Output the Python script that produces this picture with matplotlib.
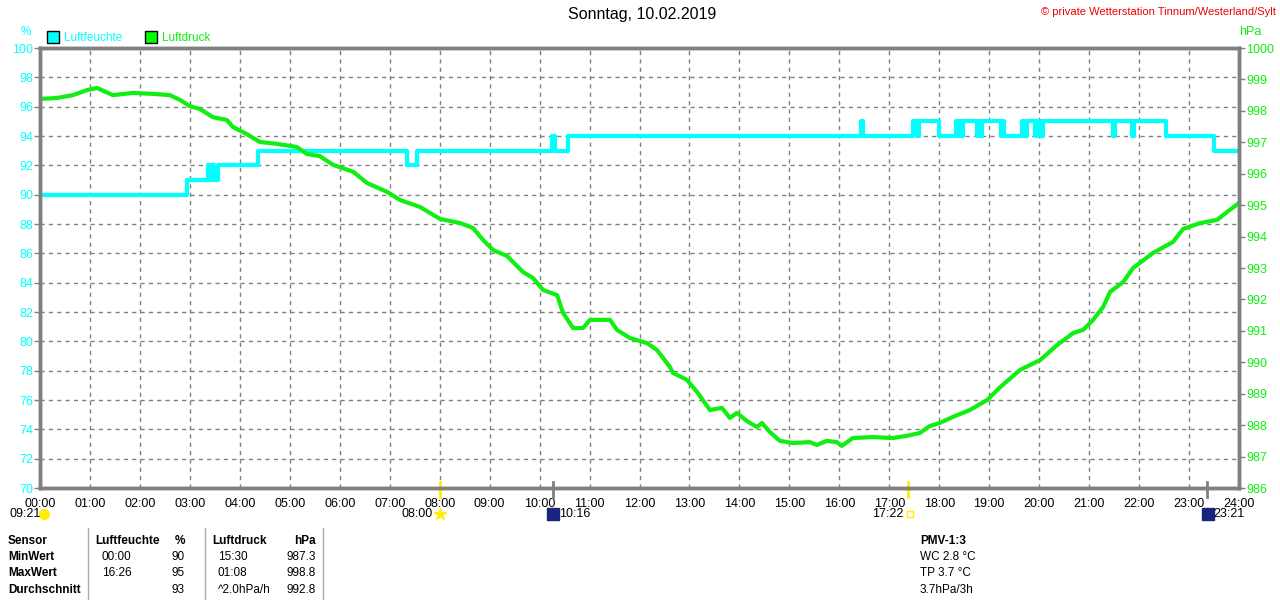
import matplotlib
matplotlib.use("Agg")
import matplotlib.pyplot as plt
from matplotlib.lines import Line2D

plt.rcParams['font.family'] = ['Liberation Sans', 'DejaVu Sans']

# Luftdruck (hPa) over the day, hours
druck_t = [0.00, 0.34, 0.66, 0.94, 1.14, 1.46, 1.86, 2.26, 2.60, 2.80, 3.00, 3.20,
           3.46, 3.74, 3.86, 4.14, 4.40, 4.74, 5.14, 5.34, 5.60, 5.87, 6.27, 6.55,
           6.95, 7.21, 7.61, 7.87, 8.01, 8.41, 8.67, 8.87, 9.07, 9.35, 9.67, 9.87,
           10.07, 10.35, 10.47, 10.67, 10.87, 11.01, 11.41, 11.55, 11.81, 12.15,
           12.35, 12.61, 12.67, 12.95, 13.15, 13.41, 13.65, 13.81, 13.95, 14.15,
           14.35, 14.45, 14.61, 14.81, 15.07, 15.41, 15.55, 15.75, 15.95, 16.05,
           16.27, 16.67, 17.07, 17.35, 17.61, 17.81, 18.01, 18.27, 18.61, 18.96,
           19.22, 19.62, 20.02, 20.36, 20.68, 20.88, 21.08, 21.28, 21.42, 21.68,
           21.88, 22.28, 22.68, 22.88, 23.22, 23.56, 23.76, 24.00]
druck_v = [998.38, 998.41, 998.50, 998.66, 998.73, 998.50, 998.57, 998.54, 998.50,
           998.35, 998.15, 998.06, 997.80, 997.71, 997.49, 997.26, 997.01, 996.95,
           996.85, 996.63, 996.56, 996.28, 996.06, 995.70, 995.42, 995.16, 994.94,
           994.69, 994.56, 994.43, 994.27, 993.89, 993.57, 993.38, 992.87, 992.68,
           992.30, 992.14, 991.57, 991.09, 991.09, 991.35, 991.35, 991.03, 990.77,
           990.61, 990.39, 989.85, 989.66, 989.44, 989.06, 988.48, 988.55, 988.23,
           988.39, 988.13, 987.94, 988.07, 987.78, 987.50, 987.43, 987.46, 987.37,
           987.50, 987.46, 987.34, 987.59, 987.62, 987.59, 987.66, 987.75, 987.97,
           988.07, 988.26, 988.48, 988.80, 989.21, 989.76, 990.07, 990.55, 990.93,
           991.03, 991.35, 991.76, 992.24, 992.55, 993.00, 993.48, 993.83, 994.24,
           994.43, 994.53, 994.78, 995.07]

# Luftfeuchte (%) as steps
feuchte_t = [0.00, 2.94, 3.36, 3.40, 3.44, 3.48, 3.56, 4.36, 7.34, 7.54, 10.25, 10.31,
             10.57, 16.43, 16.47, 17.47, 17.55, 17.59, 17.99, 18.33, 18.37, 18.41, 18.44,
             18.47, 18.75, 18.80, 18.83, 18.86, 19.24, 19.27, 19.30, 19.65, 19.70, 19.75,
             19.92, 19.96, 20.04, 20.08, 21.48, 21.52, 21.86, 21.90, 22.54, 23.50, 24.00]
feuchte_v = [90, 91, 92, 91, 92, 91, 92, 93, 92, 93, 94, 93,
             94, 95, 94, 95, 94, 95, 94, 95, 94, 95, 94,
             95, 94, 95, 94, 95, 94, 95, 94, 95, 94, 95,
             94, 95, 94, 95, 94, 95, 94, 95, 94, 93, 93]

x_labels = ["%02d:00" % h for h in range(25)]

# astronomical events
sonne_auf, sonne_unter = 8.0, 17 + 22 / 60
mond_auf, mond_unter = 10 + 16 / 60, 23 + 21 / 60
tageslaenge = "09:21"

tabelle = [
    ["Sensor", "Luftfeuchte", "%", "Luftdruck", "hPa"],
    ["MinWert", "00:00", "90", "15:30", "987.3"],
    ["MaxWert", "16:26", "95", "01:08", "998.8"],
    ["Durchschnitt", "", "93", "^2.0hPa/h", "992.8"],
]
pmv = ["PMV-1:3", "WC 2.8 °C", "TP 3.7 °C", "3.7hPa/3h"]

CYAN = "#00FFFF"
GREEN = "#11EE11"
GRAY = "#808080"
W, H = 1280, 600

fig = plt.figure(figsize=(12.8, 6), dpi=100)
ax = fig.add_axes([40 / W, 1 - 488 / H, 1199 / W, 440 / H])
ax2 = ax.twinx()

ax.set_xlim(0, 24)
ax.set_ylim(70, 100)
ax2.set_ylim(986, 1000)
ax.set_xticks(range(25))
ax.set_xticklabels(x_labels)
ax.set_yticks(range(70, 101, 2))
ax2.set_yticks(range(986, 1001))

ax.grid(True, color=GRAY, linestyle=(0, (3, 3)), linewidth=1)
for a in (ax, ax2):
    for s in a.spines.values():
        s.set_color(GRAY)
        s.set_linewidth(2.5)
ax.tick_params(axis='x', length=0, labelsize=9, pad=7, colors='black')
ax.tick_params(axis='y', length=4, width=1, color=GRAY, labelsize=9, labelcolor=CYAN, pad=1)
ax2.tick_params(axis='y', length=4, width=1, color=GRAY, labelsize=9, labelcolor=GREEN, pad=1)
for lbl in ax.get_xticklabels():
    lbl.set_color('black')

ax.plot(feuchte_t, feuchte_v, drawstyle='steps-post', color=CYAN, linewidth=3)
ax2.plot(druck_t, druck_v, color=GREEN, linewidth=3)

# event markers below the axis
for t, c in [(sonne_auf, '#FFEE00'), (sonne_unter, '#FFEE00'),
             (mond_auf, GRAY), (mond_unter, GRAY)]:
    ax.plot([t, t], [70.4, 69.4], color=c, linewidth=2, clip_on=False)

# titles
fig.text(642 / W, 1 - 15 / H, "Sonntag, 10.02.2019", ha='center', va='center', fontsize=11.5)
fig.text(1276 / W, 1 - 12 / H, "© private Wetterstation Tinnum/Westerland/Sylt",
         ha='right', va='center', fontsize=8, color='#EE0000')
fig.text(26 / W, 1 - 32 / H, "%", ha='center', va='center', fontsize=8.5, color=CYAN)
fig.text(1250 / W, 1 - 32 / H, "hPa", ha='center', va='center', fontsize=9, color=GREEN)

# legend boxes
handles = [Line2D([], [], marker='s', linestyle='none', markersize=9,
                  markerfacecolor=CYAN, markeredgecolor='black'),
           Line2D([], [], marker='s', linestyle='none', markersize=9,
                  markerfacecolor='#00FF00', markeredgecolor='black')]
leg = fig.legend(handles, ["Luftfeuchte", "Luftdruck"], loc='center left',
                 bbox_to_anchor=(47 / W, 1 - 38 / H), ncol=2, frameon=False,
                 fontsize=8.5, handletextpad=0.45, columnspacing=1.9,
                 borderaxespad=0, borderpad=0, handlelength=1)
for txt, c in zip(leg.get_texts(), [CYAN, GREEN]):
    txt.set_color(c)

# event labels
ty = 1 - 514 / H
fig.text(10 / W, ty, tageslaenge, ha='left', va='center', fontsize=9)
fig.add_artist(Line2D([44 / W], [ty], marker='o', markersize=7, color='#FFEE00',
                      linestyle='none', transform=fig.transFigure))
fig.text(433 / W, ty, "08:00", ha='right', va='center', fontsize=9)
fig.add_artist(Line2D([440 / W], [ty], marker='*', markersize=9, color='#FFEE00',
                      linestyle='none', transform=fig.transFigure))
fig.add_artist(Line2D([553 / W], [ty], marker='s', markersize=8, color='#1A237E',
                      linestyle='none', transform=fig.transFigure))
fig.text(559 / W, ty, "10:16", ha='left', va='center', fontsize=9)
fig.text(903 / W, ty, "17:22", ha='right', va='center', fontsize=9)
fig.add_artist(Line2D([910 / W], [ty], marker='s', markersize=4, markerfacecolor='white',
                      markeredgecolor='#FFEE00', linestyle='none', transform=fig.transFigure))
fig.add_artist(Line2D([1208 / W], [ty], marker='s', markersize=8, color='#1A237E',
                      linestyle='none', transform=fig.transFigure))
fig.text(1213 / W, ty, "23:21", ha='left', va='center', fontsize=9)

# table
for xv in (88, 205, 323):
    fig.add_artist(Line2D([xv / W, xv / W], [1 - 528 / H, 0], color='#AAAAAA',
                          linewidth=1, transform=fig.transFigure))
rows_y = [541, 557, 573, 590]
cols = [(8, 'left'), (102, 'left'), (185, 'right'), (218, 'left'), (316, 'right')]
header_cols = [(8, 'left'), (95, 'left'), (185, 'right'), (212, 'left'), (316, 'right')]
for r, (row, yv) in enumerate(zip(tabelle, rows_y)):
    for c, val in enumerate(row):
        xv, ha = (header_cols if r == 0 else cols)[c]
        bold = r == 0 or c == 0
        fig.text(xv / W, 1 - yv / H, val, ha=ha, va='center', fontsize=8.5,
                 fontweight='bold' if bold else 'normal')
for i, (val, yv) in enumerate(zip(pmv, rows_y)):
    fig.text(920 / W, 1 - yv / H, val, ha='left', va='center', fontsize=8.5,
             fontweight='bold' if i == 0 else 'normal')

fig.savefig("out.png", dpi=100)
